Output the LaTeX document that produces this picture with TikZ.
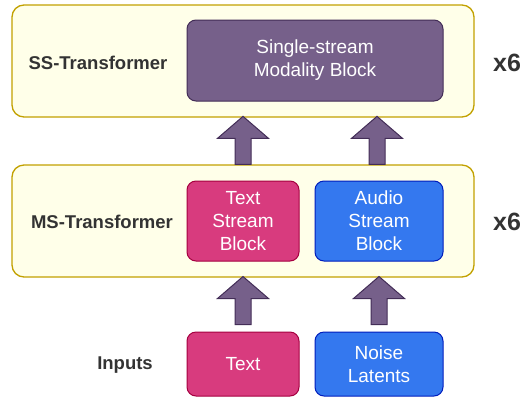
\documentclass[tikz,border=0pt]{standalone}
\usepackage{fontspec}
\setmainfont{Liberation Sans}
\usetikzlibrary{calc}
\definecolor{contfill}{HTML}{FFFFE9}
\definecolor{contdraw}{HTML}{C2A100}
\definecolor{purfill}{HTML}{76608A}
\definecolor{purdraw}{HTML}{432D57}
\definecolor{pinkfill}{HTML}{D83B7E}
\definecolor{pinkdraw}{HTML}{A50040}
\definecolor{bluefill}{HTML}{3478EF}
\definecolor{bluedraw}{HTML}{001DBC}
\definecolor{labtext}{HTML}{333333}
\tikzset{
  container/.style={draw=contdraw, fill=contfill, line width=1.3pt, rounded corners=12pt, minimum width=462pt, minimum height=112pt, inner sep=0pt},
  block/.style={rounded corners=9pt, line width=1pt, text=white, align=center, inner sep=0pt, font=\fontsize{19}{23}\selectfont},
  purblock/.style={block, draw=purdraw, fill=purfill},
  pinkblock/.style={block, draw=pinkdraw, fill=pinkfill},
  blueblock/.style={block, draw=bluedraw, fill=bluefill},
  lab/.style={text=labtext, font=\bfseries\fontsize{18.5}{22}\selectfont, inner sep=0pt},
  rep/.style={text=labtext, font=\bfseries\fontsize{25}{28}\selectfont, inner sep=0pt},
  fatarrow/.style={draw=purdraw, fill=purfill, line width=1pt, line join=miter}
}
\newcommand{\fatup}[1]{%
  \draw[fatarrow] ($(#1)+(-8,0)$) -- ++(0,-26) -- ++(-17.5,0) -- ++(25.5,-22) -- ++(25.5,22) -- ++(-17.5,0) -- ++(0,26) -- cycle;}
\begin{document}
\begin{tikzpicture}[x=1pt,y=-1pt]
\useasboundingbox (0,0) rectangle (525,400);
% containers
\node[container] (ss) at (243,61) {};
\node[container] (ms) at (243,221) {};
% blocks
\node[purblock, minimum width=256pt, minimum height=81pt] (ssb) at (315,60.5) {Single-stream\\Modality Block};
\node[pinkblock, minimum width=112pt, minimum height=80pt] (tsb) at (243,221) {Text\\Stream\\Block};
\node[blueblock, minimum width=128pt, minimum height=80pt] (asb) at (379,221) {Audio\\Stream\\Block};
\node[pinkblock, minimum width=112pt, minimum height=64pt] (txt) at (243,364) {Text};
\node[blueblock, minimum width=128pt, minimum height=64pt] (noise) at (379,364) {Noise\\Latents};
% labels
\node[lab] (sslab) at (98,63) {SS-Transformer};
\node[lab] (mslab) at (102,222) {MS-Transformer};
\node[lab] (inlab) at (125,365) {Inputs};
\node[rep] (ssrep) at (507,63) {x6};
\node[rep] (msrep) at (507,222) {x6};
% arrows
\coordinate (a1) at (tsb.center |- ms.north);
\coordinate (a2) at ($(asb.center |- ms.north)+(-2,0)$);
\coordinate (b1) at ($(txt.north)+(0,-7)$);
\coordinate (b2) at ($(noise.north)+(0,-7)$);
\fatup{a1}
\fatup{a2}
\fatup{b1}
\fatup{b2}
\end{tikzpicture}
\end{document}
